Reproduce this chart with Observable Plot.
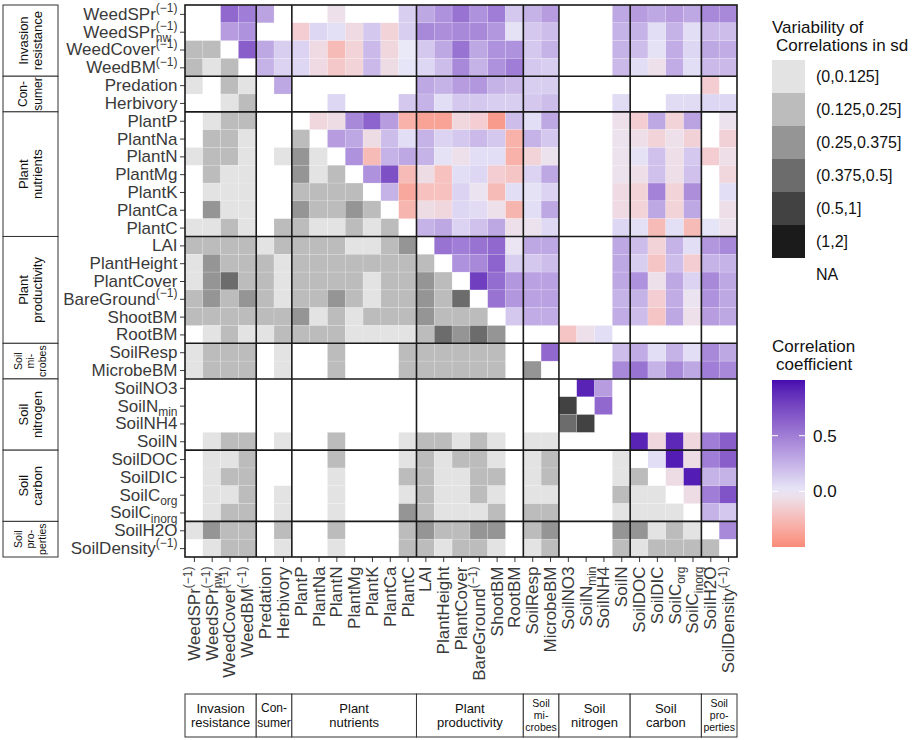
<!DOCTYPE html>
<html><head><meta charset="utf-8">
<script src="https://cdn.jsdelivr.net/npm/d3@7"></script>
<script src="https://cdn.jsdelivr.net/npm/@observablehq/plot@0.6"></script>
<style>
body{margin:0;background:#fff;}
#chart{position:relative;width:913px;height:740px;}
</style></head><body><div id="chart"></div>
<script>
const _ = null;
// variable names: base_sub^sup
const variables = ["WeedSPr^(−1)", "WeedSPr_nw^(−1)", "WeedCover^(−1)", "WeedBM^(−1)", "Predation", "Herbivory",
  "PlantP", "PlantNa", "PlantN", "PlantMg", "PlantK", "PlantCa", "PlantC",
  "LAI", "PlantHeight", "PlantCover", "BareGround^(−1)", "ShootBM", "RootBM",
  "SoilResp", "MicrobeBM", "SoilNO3", "SoilN_min", "SoilNH4", "SoilN",
  "SoilDOC", "SoilDIC", "SoilC_org", "SoilC_inorg", "SoilH2O", "SoilDensity^(−1)"];

const groupNames = [["Invasion","resistance"], ["Con-","sumer"], ["Plant","nutrients"], ["Plant","productivity"],
  ["Soil","mi-","crobes"], ["Soil","nitrogen"], ["Soil","carbon"], ["Soil","pro-","perties"]];
const groupSizes = [4, 2, 7, 6, 2, 4, 4, 2];

// upper triangle: correlation coefficient, row i, columns i+1 .. 30
const corrUpper = [
  [_, 0.6, 0.5, 0.32, _, _, _, -0.05, _, _, _, 0.12, 0.3, 0.4, 0.55, 0.4, 0.5, 0.15, 0.25, 0.35, _, _, _, 0.3, 0.35, 0.3, 0.35, 0.3, 0.45, 0.45],
  [0.35, 0.4, _, _, -0.15, 0.08, 0.04, -0.08, 0.15, -0.12, 0.12, 0.45, 0.42, 0.45, 0.45, 0.38, 0.03, 0.15, 0.2, _, _, _, 0.25, 0.25, 0.05, 0.25, 0.05, 0.22, 0.2],
  [0.65, 0.3, 0.12, 0.1, -0.08, -0.25, -0.12, 0.22, -0.1, 0.0, 0.15, 0.3, 0.55, 0.3, 0.4, 0.4, 0.15, 0.25, _, _, _, 0.25, 0.2, 0.03, 0.28, 0.08, 0.3, 0.28],
  [0.25, 0.1, 0.08, -0.08, -0.18, -0.12, 0.22, -0.07, 0.02, 0.08, 0.2, 0.45, 0.25, 0.4, 0.5, 0.15, 0.12, _, _, _, 0.22, 0.05, -0.05, 0.28, 0.05, 0.22, 0.22],
  [0.3, _, _, _, _, _, _, _, 0.3, 0.25, 0.35, 0.38, 0.25, 0.22, 0.12, 0.12, _, _, _, _, _, _, _, _, -0.15, _],
  [_, _, 0.08, _, _, _, 0.15, 0.25, 0.05, 0.15, 0.15, 0.12, 0.12, 0.15, 0.2, _, _, _, 0.06, _, _, 0.06, 0.06, 0.08, 0.08],
  [-0.1, -0.07, 0.45, 0.62, 0.35, -0.3, -0.38, -0.38, -0.1, -0.15, -0.42, 0.2, 0.05, 0.3, _, _, _, -0.05, -0.15, 0.3, -0.12, 0.32, _, -0.04],
  [0.35, 0.3, -0.07, 0.2, 0.05, 0.25, 0.1, 0.15, 0.22, 0.15, -0.3, 0.25, 0.15, _, _, _, -0.04, -0.06, -0.12, -0.05, -0.13, _, -0.13],
  [0.4, -0.25, 0.25, 0.3, 0.25, 0.03, -0.05, 0.05, 0.05, -0.3, -0.12, -0.04, _, _, _, -0.04, 0.03, 0.18, -0.06, 0.15, -0.15, -0.06],
  [0.4, 0.72, -0.25, -0.07, -0.22, 0.05, 0.08, -0.15, -0.2, 0.1, 0.3, _, _, _, -0.04, -0.06, 0.18, -0.06, 0.18, _, -0.1],
  [0.25, -0.35, -0.22, -0.22, 0.1, -0.03, -0.25, 0.05, 0.03, 0.1, _, _, _, -0.08, -0.12, 0.48, -0.12, 0.42, _, 0.05],
  [-0.28, -0.07, -0.1, 0.08, 0.06, -0.05, -0.28, 0.05, 0.3, _, _, _, -0.08, -0.12, 0.3, -0.12, 0.3, _, -0.06],
  [0.25, 0.3, 0.1, 0.18, 0.3, -0.05, -0.04, 0.07, _, _, _, 0.08, 0.04, -0.25, 0.04, -0.25, 0.02, -0.04],
  [0.55, 0.5, 0.55, 0.6, -0.02, 0.3, 0.3, _, _, _, 0.3, 0.2, -0.12, 0.25, 0.05, 0.38, 0.45],
  [0.4, 0.45, 0.62, 0.12, 0.15, 0.2, _, _, _, 0.3, 0.12, -0.2, 0.2, -0.15, 0.25, 0.25],
  [0.8, 0.58, 0.38, 0.33, 0.33, _, _, _, 0.3, 0.4, -0.05, 0.3, 0.1, 0.45, 0.3],
  [0.55, 0.38, 0.33, 0.33, _, _, _, 0.25, 0.25, -0.15, 0.28, -0.03, 0.4, 0.3],
  [0.15, 0.28, 0.28, _, _, _, 0.28, 0.2, -0.2, 0.3, -0.05, 0.35, 0.3],
  [_, _, -0.2, -0.05, 0.05, _, _, _, _, _, _, _],
  [0.6, _, _, _, 0.2, 0.28, 0.05, 0.25, 0.05, 0.45, 0.3],
  [_, _, _, 0.45, 0.55, 0.25, 0.45, 0.3, 0.5, 0.45],
  [0.92, 0.35, _, _, _, _, _, _, _],
  [0.6, _, _, _, _, _, _, _],
  [_, _, _, _, _, _, _],
  [0.92, -0.1, 0.9, -0.1, 0.5, 0.65],
  [0.05, 0.95, -0.07, 0.5, 0.65],
  [-0.07, 0.95, 0.25, 0.25],
  [-0.07, 0.5, 0.7],
  [0.25, 0.15],
  [0.45],
  []
];

// lower triangle: variability class (1..6, 0 = NA), row i (1..30), columns 0 .. i-1
const sdLower = [
  [0],
  [2, 2],
  [2, 1, 2],
  [1, 0, 2, 1],
  [0, 0, 1, 2, 0],
  [0, 1, 2, 2, 0, 0],
  [0, 2, 2, 1, 0, 0, 2],
  [1, 2, 2, 1, 0, 1, 3, 1],
  [0, 2, 1, 1, 0, 0, 3, 1, 2],
  [0, 1, 1, 1, 0, 0, 2, 2, 2, 2],
  [0, 3, 1, 1, 0, 0, 3, 2, 2, 3, 2],
  [1, 1, 2, 1, 0, 2, 2, 1, 1, 2, 1, 2],
  [2, 2, 2, 2, 1, 2, 2, 2, 2, 1, 1, 2, 3],
  [1, 3, 2, 2, 2, 1, 2, 2, 2, 2, 2, 2, 2, 2],
  [1, 3, 4, 2, 2, 1, 2, 2, 2, 2, 1, 2, 2, 3, 2],
  [2, 3, 2, 3, 2, 1, 2, 2, 3, 2, 1, 2, 2, 3, 2, 4],
  [2, 2, 2, 2, 2, 2, 3, 1, 2, 1, 2, 2, 2, 3, 2, 2, 2],
  [0, 1, 2, 1, 1, 2, 2, 2, 2, 1, 1, 1, 1, 2, 4, 3, 4, 3],
  [1, 2, 2, 2, 0, 1, 0, 0, 2, 0, 0, 0, 2, 2, 2, 2, 2, 2, 0],
  [1, 2, 2, 2, 0, 1, 0, 0, 2, 0, 0, 0, 2, 2, 2, 2, 2, 2, 0, 3],
  [0, 0, 0, 0, 0, 0, 0, 0, 0, 0, 0, 0, 0, 0, 0, 0, 0, 0, 0, 0, 0],
  [0, 0, 0, 0, 0, 0, 0, 0, 0, 0, 0, 0, 0, 0, 0, 0, 0, 0, 0, 0, 0, 5],
  [0, 0, 0, 0, 0, 0, 0, 0, 0, 0, 0, 0, 0, 0, 0, 0, 0, 0, 0, 0, 0, 4, 5],
  [0, 1, 2, 2, 0, 1, 0, 0, 2, 0, 0, 0, 1, 2, 2, 1, 2, 1, 0, 1, 1, 0, 0, 0],
  [0, 1, 1, 2, 0, 0, 0, 0, 2, 0, 0, 0, 1, 2, 1, 2, 2, 1, 0, 1, 2, 0, 0, 0, 1],
  [0, 1, 2, 2, 0, 0, 0, 0, 1, 0, 0, 0, 2, 2, 1, 1, 2, 2, 0, 1, 2, 0, 0, 0, 1, 2],
  [0, 1, 1, 2, 0, 1, 0, 0, 1, 0, 0, 0, 1, 2, 1, 1, 2, 1, 0, 1, 1, 0, 0, 0, 2, 1, 1],
  [0, 1, 2, 2, 0, 1, 0, 0, 1, 0, 0, 0, 3, 2, 1, 1, 1, 2, 0, 2, 2, 0, 0, 0, 1, 1, 1, 1],
  [1, 3, 2, 2, 0, 2, 0, 0, 2, 0, 0, 0, 2, 3, 2, 2, 3, 3, 0, 2, 3, 0, 0, 0, 3, 3, 1, 2, 1],
  [0, 1, 2, 2, 0, 1, 0, 0, 1, 0, 0, 0, 2, 2, 1, 2, 2, 1, 0, 1, 2, 0, 0, 0, 2, 1, 2, 2, 2, 2]
];

const sdLabels = ["(0,0.125]", "(0.125,0.25]", "(0.25,0.375]", "(0.375,0.5]", "(0.5,1]", "(1,2]", "NA"];
const sdColors = ["#E3E3E3", "#BCBCBC", "#959595", "#6C6C6C", "#424242", "#1B1B1B", "#FFFFFF"];
const corrTicks = [0, 0.5];

const FONT = "'Liberation Sans', Arial, Helvetica, sans-serif";

const corrCells = [];
corrUpper.forEach((row, i) => row.forEach((r, k) => {
  if (r !== null) corrCells.push({row: variables[i], col: variables[i + 1 + k], r});
}));
const sdCells = [];
sdLower.forEach((row, idx) => row.forEach((c, j) => {
  if (c > 0) sdCells.push({row: variables[idx + 1], col: variables[j], cls: c});
}));

const colorOptions = {type: "linear", domain: [-0.5, 0, 1], range: ["#F98B79", "#E9E9F8", "#480BB0"], interpolate: "lab"};

const plot = Plot.plot({
  width: 913, height: 740,
  marginLeft: 185, marginTop: 5, marginRight: 176, marginBottom: 183,
  style: {fontFamily: FONT, fontSize: "17px", color: "#3a3a3a", background: "white"},
  x: {domain: variables, padding: 0, round: false, tickRotate: -90, tickSize: 5, tickPadding: 4, label: null, tickFormat: d => d},
  y: {domain: variables, padding: 0, round: false, tickSize: 5, tickPadding: 3, label: null, tickFormat: d => d},
  color: colorOptions,
  marks: [
    Plot.cell(sdCells, {x: "col", y: "row", fill: d => sdColors[d.cls - 1], inset: 0, stroke: "#ffffff", strokeOpacity: 0.3, strokeWidth: 0.5}),
    Plot.cell(corrCells, {x: "col", y: "row", fill: "r", inset: 0, stroke: "#ffffff", strokeOpacity: 0.3, strokeWidth: 0.5})
  ]
});
document.getElementById("chart").appendChild(plot);

const svg = d3.select(plot);

// rich tick labels (subscripts / superscripts)
svg.selectAll("text").each(function() {
  const key = this.textContent;
  if (!variables.includes(key)) return;
  const m = key.match(/^([^_^]+)(?:_([^^]+))?(?:\^(.+))?$/);
  const t = d3.select(this);
  t.text(null);
  t.append("tspan").text(m[1]);
  let down = 0, subW = 0;
  if (m[2]) {
    const s = t.append("tspan").attr("font-size", 12).attr("dy", 4.5).text(m[2]);
    down = 4.5; subW = s.node().getComputedTextLength();
  }
  if (m[3]) {
    const s = t.append("tspan").attr("font-size", 12).attr("dy", -(7.5 + down)).text(m[3]);
    if (m[2]) s.attr("dx", -subW);
  }
});

// positions from Plot's scales
const xsc = plot.scale("x"), ysc = plot.scale("y");
const bandX = xsc.apply ? v => xsc.apply(v) : d3.scaleBand(xsc.domain, xsc.range);
const bandY = ysc.apply ? v => ysc.apply(v) : d3.scaleBand(ysc.domain, ysc.range);
const bw = xsc.bandwidth, bh = ysc.bandwidth;
const first = variables[0], last = variables[variables.length - 1];
const X0 = bandX(first), X1 = bandX(last) + bw, Y0 = bandY(first), Y1 = bandY(last) + bh;

const deco = svg.append("g").attr("font-family", FONT);
// group lines and group boxes
let start = 0;
groupSizes.forEach((n, g) => {
  const v0 = variables[start], v1 = variables[start + n - 1];
  const gx0 = bandX(v0), gx1 = bandX(v1) + bw, gy0 = bandY(v0), gy1 = bandY(v1) + bh;
  if (start > 0) {
    deco.append("line").attr("x1", gx0).attr("x2", gx0).attr("y1", Y0).attr("y2", Y1).attr("stroke", "#1a1a1a").attr("stroke-width", 1.6);
    deco.append("line").attr("y1", gy0).attr("y2", gy0).attr("x1", X0).attr("x2", X1).attr("stroke", "#1a1a1a").attr("stroke-width", 1.6);
  }
  const lines = groupNames[g];
  const three = lines.length === 3;
  const fs = three ? 10.5 : (n <= 2 ? 12 : 13);
  const lh = three ? 12 : 14.5;
  // left box
  deco.append("rect").attr("x", 3).attr("y", gy0).attr("width", 55).attr("height", gy1 - gy0)
    .attr("fill", "white").attr("stroke", "#333").attr("stroke-width", 1);
  const tl = deco.append("text").attr("transform", `translate(30.5,${(gy0 + gy1) / 2}) rotate(-90)`)
    .attr("text-anchor", "middle").attr("font-size", fs).attr("fill", "#111");
  lines.forEach((s, k) => tl.append("tspan").attr("x", 0).attr("y", (k - (lines.length - 1) / 2) * lh).attr("dy", "0.35em").text(s));
  // bottom box
  deco.append("rect").attr("x", gx0).attr("y", 694).attr("width", gx1 - gx0).attr("height", 43)
    .attr("fill", "white").attr("stroke", "#333").attr("stroke-width", 1);
  const tb = deco.append("text").attr("text-anchor", "middle").attr("font-size", fs).attr("fill", "#111");
  lines.forEach((s, k) => tb.append("tspan").attr("x", (gx0 + gx1) / 2).attr("y", 715.5 + (k - (lines.length - 1) / 2) * lh).attr("dy", "0.35em").text(s));
  start += n;
});
// panel frame
deco.append("rect").attr("x", X0).attr("y", Y0).attr("width", X1 - X0).attr("height", Y1 - Y0)
  .attr("fill", "none").attr("stroke", "#1a1a1a").attr("stroke-width", 1.6);

// legend: variability
const leg = svg.append("g").attr("font-family", FONT).attr("fill", "#111").attr("text-anchor", "start");
leg.append("text").attr("x", 772).attr("y", 33).attr("font-size", 17).text("Variability of");
leg.append("text").attr("x", 776).attr("y", 51).attr("font-size", 17).text("Correlations in sd");
sdLabels.forEach((lab, k) => {
  leg.append("rect").attr("x", 772).attr("y", 60 + 33 * k).attr("width", 33).attr("height", 33).attr("fill", sdColors[k]);
  leg.append("text").attr("x", 816).attr("y", 60 + 33 * k + 16.5).attr("dy", "0.35em").attr("font-size", 16).text(lab);
});

// legend: correlation colorbar
const colorScale = Plot.scale({color: colorOptions});
const [cmin, , cmax] = colorOptions.domain;
const barY = d3.scaleLinear([cmin, cmax], [547, 380]);
const defs = svg.append("defs");
const grad = defs.append("linearGradient").attr("id", "cbar").attr("x1", 0).attr("y1", 1).attr("x2", 0).attr("y2", 0);
d3.range(0, 1.0001, 0.05).forEach(t => {
  grad.append("stop").attr("offset", t).attr("stop-color", colorScale.apply(cmin + t * (cmax - cmin)));
});
leg.append("text").attr("x", 772).attr("y", 352).attr("font-size", 17).text("Correlation");
leg.append("text").attr("x", 776).attr("y", 370).attr("font-size", 17).text("coefficient");
leg.append("rect").attr("x", 772).attr("y", 380).attr("width", 33).attr("height", 167).attr("fill", "url(#cbar)");
corrTicks.forEach(v => {
  const y = barY(v);
  leg.append("line").attr("x1", 772).attr("x2", 778).attr("y1", y).attr("y2", y).attr("stroke", "white").attr("stroke-width", 1);
  leg.append("line").attr("x1", 799).attr("x2", 805).attr("y1", y).attr("y2", y).attr("stroke", "white").attr("stroke-width", 1);
  leg.append("text").attr("x", 813).attr("y", y).attr("dy", "0.35em").attr("font-size", 17).text(d3.format(".1f")(v));
});
</script></body></html>
